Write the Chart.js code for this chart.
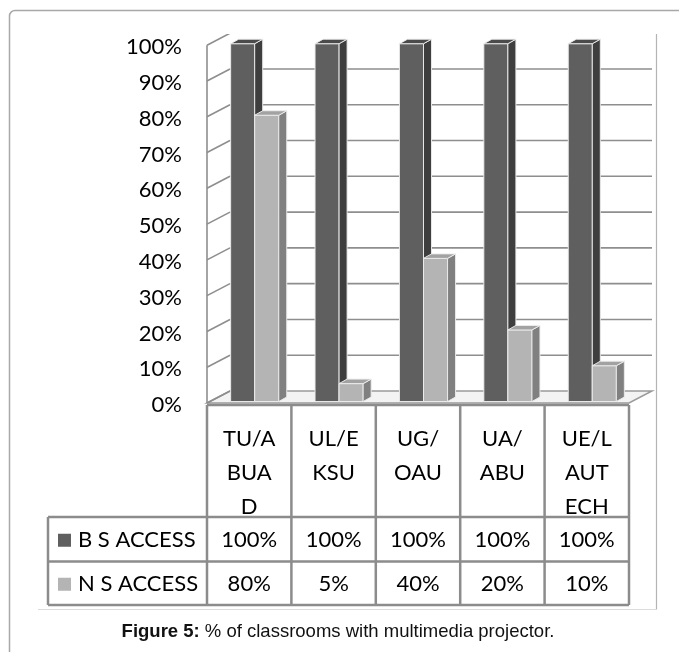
<!DOCTYPE html>
<html>
<head>
<meta charset="utf-8">
<script src="https://cdn.jsdelivr.net/npm/chart.js@4/dist/chart.umd.min.js"></script>
<style>
  html, body { margin: 0; padding: 0; background: #fff; }
  canvas { display: block; }
</style>
</head>
<body>
<canvas id="c" width="679" height="652"></canvas>
<script>
// Universities (header cells are wrapped onto several lines)
const categories = [['TU/A', 'BUA', 'D'], ['UL/E', 'KSU'], ['UG/', 'OAU'], ['UA/', 'ABU'], ['UE/L', 'AUT', 'ECH']];
const seriesNames = ['B S ACCESS', 'N S ACCESS'];
const bsAccess = [100, 100, 100, 100, 100];
const nsAccess = [80, 5, 40, 20, 10];
const yMin = 0, yMax = 100, yStep = 10;
const caption = ['Figure 5:', ' % of classrooms with multimedia projector.'];

const FONT = 'Lato, "Open Sans", sans-serif';
const CAPTION_FONT = '"Liberation Sans", Arial, sans-serif';
const colors = {
  dark:  { front: '#5f5f5f', side: '#3e3e3e', top: '#4b4b4b' },
  light: { front: '#b4b4b4', side: '#808080', top: '#a2a2a2' }
};
const faceColors = [colors.dark, colors.light];
const EDGE = 'rgba(236,236,236,0.95)';

// 3D look: shift of the category plane, wall depth and bar depth
const PLANE_SHIFT = 5.5;
const WALL = { dx: 23, dy: -12 };
const BAR = { dx: 8, dy: -4.5 };

function geometry(chart) {
  const ca = chart.chartArea;
  const ys = chart.scales.y;
  const n = categories.length;
  const left = ca.left - PLANE_SHIFT;
  const right = ca.right - PLANE_SHIFT;
  return {
    ca, ys, n, left, right,
    colW: (right - left) / n,
    fy: v => ys.getPixelForValue(v) + 1.5
  };
}

function drawPoly(ctx, pts, fill) {
  ctx.beginPath();
  ctx.moveTo(pts[0][0], pts[0][1]);
  for (let i = 1; i < pts.length; i++) ctx.lineTo(pts[i][0], pts[i][1]);
  ctx.closePath();
  ctx.fillStyle = fill;
  ctx.fill();
  ctx.stroke();
}

// one prism per bar element: front, side and top faces
function drawPrism(ctx, bar, fc) {
  const p = bar.getProps(['x', 'y', 'base', 'width'], true);
  const x0 = p.x - p.width / 2, x1 = p.x + p.width / 2;
  const top = p.y, base = p.base;
  drawPoly(ctx, [[x0, top], [x1, top], [x1, base], [x0, base]], fc.front);
  drawPoly(ctx, [[x1, top], [x1 + BAR.dx, top + BAR.dy], [x1 + BAR.dx, base + BAR.dy], [x1, base]], fc.side);
  drawPoly(ctx, [[x0, top], [x1, top], [x1 + BAR.dx, top + BAR.dy], [x0 + BAR.dx, top + BAR.dy]], fc.top);
}

const walls3d = {
  id: 'walls3d',
  beforeDatasetsDraw(chart) {
    const ctx = chart.ctx;
    const g = geometry(chart);
    ctx.save();
    ctx.beginPath();
    ctx.rect(0, 34, chart.width, chart.height);
    ctx.clip();

    // floor
    const f0 = g.fy(yMin);
    ctx.beginPath();
    ctx.moveTo(g.left, f0);
    ctx.lineTo(g.right, f0);
    ctx.lineTo(g.right + WALL.dx, f0 + WALL.dy);
    ctx.lineTo(g.left + WALL.dx, f0 + WALL.dy);
    ctx.closePath();
    ctx.fillStyle = '#f3f3f3';
    ctx.fill();
    ctx.strokeStyle = '#9a9a9a';
    ctx.lineWidth = 1.5;
    ctx.stroke();

    ctx.strokeStyle = '#8e8e8e';
    ctx.lineWidth = 1.6;
    // side wall: front edge and slanted grid lines
    ctx.beginPath();
    ctx.moveTo(g.left, g.fy(yMin));
    ctx.lineTo(g.left, g.fy(yMax));
    ctx.stroke();
    for (let v = yMin; v <= yMax; v += yStep) {
      const py = g.fy(v);
      ctx.beginPath();
      ctx.moveTo(g.left, py);
      ctx.lineTo(g.left + WALL.dx, py + WALL.dy);
      ctx.stroke();
    }
    // back wall grid lines
    for (let v = yMin + yStep; v <= yMax; v += yStep) {
      const py = g.fy(v) + WALL.dy;
      ctx.beginPath();
      ctx.moveTo(g.left + WALL.dx, py);
      ctx.lineTo(g.right + WALL.dx, py);
      ctx.stroke();
    }
    ctx.restore();
  },
  afterDatasetsDraw(chart) {
    // paint the prisms category by category, left series first
    const ctx = chart.ctx;
    const metas = [chart.getDatasetMeta(0), chart.getDatasetMeta(1)];
    ctx.save();
    ctx.lineWidth = 1;
    ctx.strokeStyle = EDGE;
    for (let i = 0; i < categories.length; i++) {
      metas.forEach((m, d) => drawPrism(ctx, m.data[i], faceColors[d]));
    }
    ctx.restore();
  },
  afterDraw(chart) {
    const ctx = chart.ctx;
    const g = geometry(chart);
    const tTop = g.fy(yMin) + 2;
    const headBottom = tTop + 112;
    const row1Bottom = headBottom + 44.5;
    const row2Bottom = row1Bottom + 43.5;
    const legendLeft = 48;

    ctx.save();
    // outer figure frame
    ctx.strokeStyle = '#a8a8a8';
    ctx.lineWidth = 1.5;
    ctx.beginPath();
    ctx.moveTo(9.5, chart.height);
    ctx.lineTo(9.5, 16);
    ctx.arcTo(9.5, 10.5, 15, 10.5, 5.5);
    ctx.lineTo(chart.width, 10.5);
    ctx.stroke();
    // chart area border
    ctx.strokeStyle = '#b4b4b4';
    ctx.lineWidth = 1.2;
    ctx.beginPath();
    ctx.moveTo(656.5, 34);
    ctx.lineTo(656.5, 609.5);
    ctx.stroke();
    ctx.strokeStyle = '#dcdcdc';
    ctx.beginPath();
    ctx.moveTo(38, 609.5);
    ctx.lineTo(656.5, 609.5);
    ctx.stroke();

    // data table grid
    ctx.strokeStyle = '#8c8c8c';
    ctx.lineWidth = 2.5;
    ctx.beginPath();
    for (let i = 0; i <= g.n; i++) {
      const cx = g.left + i * g.colW;
      ctx.moveTo(cx, tTop);
      ctx.lineTo(cx, row2Bottom);
    }
    ctx.moveTo(g.left, tTop);
    ctx.lineTo(g.right, tTop);
    [headBottom, row1Bottom, row2Bottom].forEach(ry => {
      ctx.moveTo(legendLeft, ry);
      ctx.lineTo(g.right, ry);
    });
    ctx.moveTo(legendLeft, headBottom);
    ctx.lineTo(legendLeft, row2Bottom);
    ctx.stroke();

    ctx.fillStyle = '#000';
    ctx.font = '22px ' + FONT;
    ctx.textAlign = 'center';
    ctx.textBaseline = 'middle';
    // category headers
    categories.forEach((lines, i) => {
      const cx = g.left + (i + 0.5) * g.colW;
      lines.forEach((t, j) => ctx.fillText(t, cx, tTop + 34 + j * 34));
    });
    // value rows with legend keys
    const rows = [
      { name: seriesNames[0], data: bsAccess, color: colors.dark.front, top: headBottom, bottom: row1Bottom },
      { name: seriesNames[1], data: nsAccess, color: colors.light.front, top: row1Bottom, bottom: row2Bottom }
    ];
    rows.forEach(r => {
      const cy = (r.top + r.bottom) / 2 + 1;
      ctx.fillStyle = r.color;
      ctx.fillRect(58, cy - 6.5, 13, 13);
      ctx.fillStyle = '#000';
      ctx.textAlign = 'left';
      ctx.fillText(r.name, 78, cy);
      ctx.textAlign = 'center';
      r.data.forEach((v, i) => {
        ctx.fillText(v + '%', g.left + (i + 0.5) * g.colW, cy);
      });
    });

    // caption
    const size = 18.5;
    ctx.font = 'bold ' + size + 'px ' + CAPTION_FONT;
    const w1 = ctx.measureText(caption[0]).width;
    ctx.font = size + 'px ' + CAPTION_FONT;
    const w2 = ctx.measureText(caption[1]).width;
    const sx = 338 - (w1 + w2) / 2;
    ctx.textAlign = 'left';
    ctx.fillStyle = '#111';
    ctx.font = 'bold ' + size + 'px ' + CAPTION_FONT;
    ctx.fillText(caption[0], sx, 632);
    ctx.font = size + 'px ' + CAPTION_FONT;
    ctx.fillText(caption[1], sx + w1, 632);
    ctx.restore();
  }
};

new Chart(document.getElementById('c'), {
  type: 'bar',
  data: {
    labels: categories,
    datasets: [
      { label: seriesNames[0], data: bsAccess, backgroundColor: colors.dark.front,
        borderColor: EDGE, borderWidth: 1 },
      { label: seriesNames[1], data: nsAccess, backgroundColor: colors.light.front,
        borderColor: EDGE, borderWidth: 1 }
    ]
  },
  options: {
    responsive: false,
    animation: false,
    devicePixelRatio: 1,
    layout: { padding: { left: 0, right: 44.5, top: 39.5, bottom: 250.5 } },
    datasets: { bar: { categoryPercentage: 0.57, barPercentage: 1.0 } },
    plugins: { legend: { display: false }, tooltip: { enabled: false } },
    scales: {
      x: { display: false },
      y: {
        min: yMin, max: yMax,
        afterFit(scale) { scale.width = 212.5; },
        grid: { display: false, drawTicks: false },
        border: { display: false },
        ticks: {
          stepSize: yStep,
          padding: 30.5,
          labelOffset: 3.5,
          color: '#000',
          font: { family: FONT, size: 22 },
          callback: v => v + '%'
        }
      }
    }
  },
  plugins: [walls3d]
});
</script>
</body>
</html>
